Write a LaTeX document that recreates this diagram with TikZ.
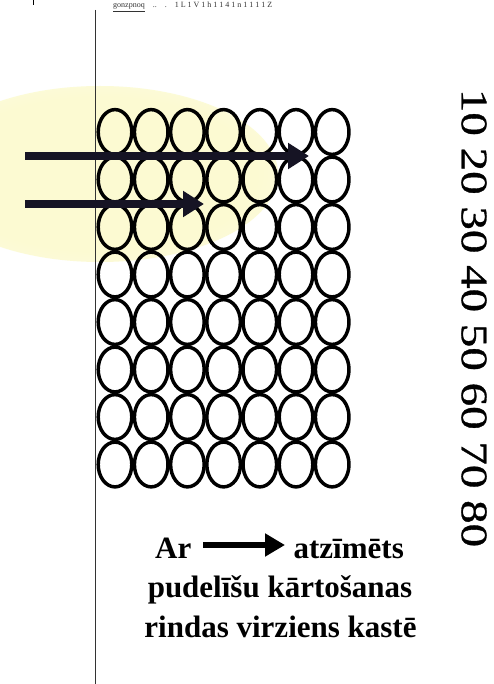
\documentclass[tikz,border=0pt]{standalone}
\usepackage{fontspec}
\setmainfont{Liberation Serif}
\newfontfamily\scalefamily[FakeBold=0.8]{Liberation Serif}
\usetikzlibrary{arrows.meta}
\definecolor{glow}{RGB}{252,250,210}
\definecolor{arrowink}{RGB}{22,20,36}
\pgfdeclareradialshading{glowshade}{\pgfpoint{0bp}{0bp}}{color(0bp)=(glow); color(22bp)=(glow); color(50bp)=(white)}
\begin{document}
\begin{tikzpicture}[x=1pt,y=-1pt,
  bottle/.style={draw=black, line width=3.5pt},
  bigarrow/.style={draw=arrowink, line width=7.5pt, -{Triangle[length=21pt,width=25pt]}},
  textarrow/.style={draw=black, line width=6.5pt, -{Triangle[length=20pt,width=22pt]}},
  lbl/.style={font=\bfseries\fontsize{31}{36}\selectfont, inner sep=0pt},
  scalelbl/.style={font=\scalefamily\fontsize{47}{50}\selectfont, inner sep=0pt, rotate=-90},
  frag/.style={font=\fontsize{8}{8}\selectfont, inner sep=0pt, text=black!80}]
\useasboundingbox (0,0) rectangle (493,684);
\fill[white] (0,0) rectangle (493,684);

% soft yellow highlight
\shade[shading=glowshade] (100,174) ellipse (178 and 88);

% small fragment at the top edge
\node[frag, anchor=base west] (frag) at (113,8) {\underline{gonzpnoq}\quad..\quad.\quad 1 L 1 V 1 h 1 1 4 1 n 1 1 1 1 Z};
\coordinate (tickA) at (33,0);
\coordinate (tickB) at (33,5);
\draw[line width=1pt] (tickA) -- (tickB);

% vertical margin line
\coordinate (vtop) at (95.5,10);
\coordinate (vbot) at (95.5,684);
\draw[line width=1.6pt, black!80] (vtop) -- (vbot);

% bottles
\begin{scope}
\clip (0,0) rectangle (350.5,684);
\foreach \i in {0,...,6}{
  \foreach \j in {0,...,7}{
    \draw[bottle] ({115+36.2*\i},{132+47.5*\j}) ellipse (16.8 and 22.4);
  }
}
\end{scope}

% direction arrows
\coordinate (a1s) at (25,156);
\coordinate (a1e) at (309,156);
\coordinate (a2s) at (25,204);
\coordinate (a2e) at (204,204);
\draw[bigarrow] (a1s) -- (a1e);
\draw[bigarrow] (a2s) -- (a2e);

% scale on the right
\node[scalelbl] (scale) at (474,318) {\scalebox{1}[0.8]{10 20 30 40 50 60 70 80}};

% legend
\node[lbl, anchor=base west] (ar) at (155,558) {Ar};
\node[lbl, anchor=base east] (atz) at (404,558) {atzīmēts};
\coordinate (ta1) at (203,545);
\coordinate (ta2) at (285,545);
\draw[textarrow] (ta1) -- (ta2);
\node[lbl, anchor=base] (l2) at (280,597) {pudelīšu kārtošanas};
\node[lbl, anchor=base] (l3) at (280.5,637) {rindas virziens kastē};
\end{tikzpicture}
\end{document}
